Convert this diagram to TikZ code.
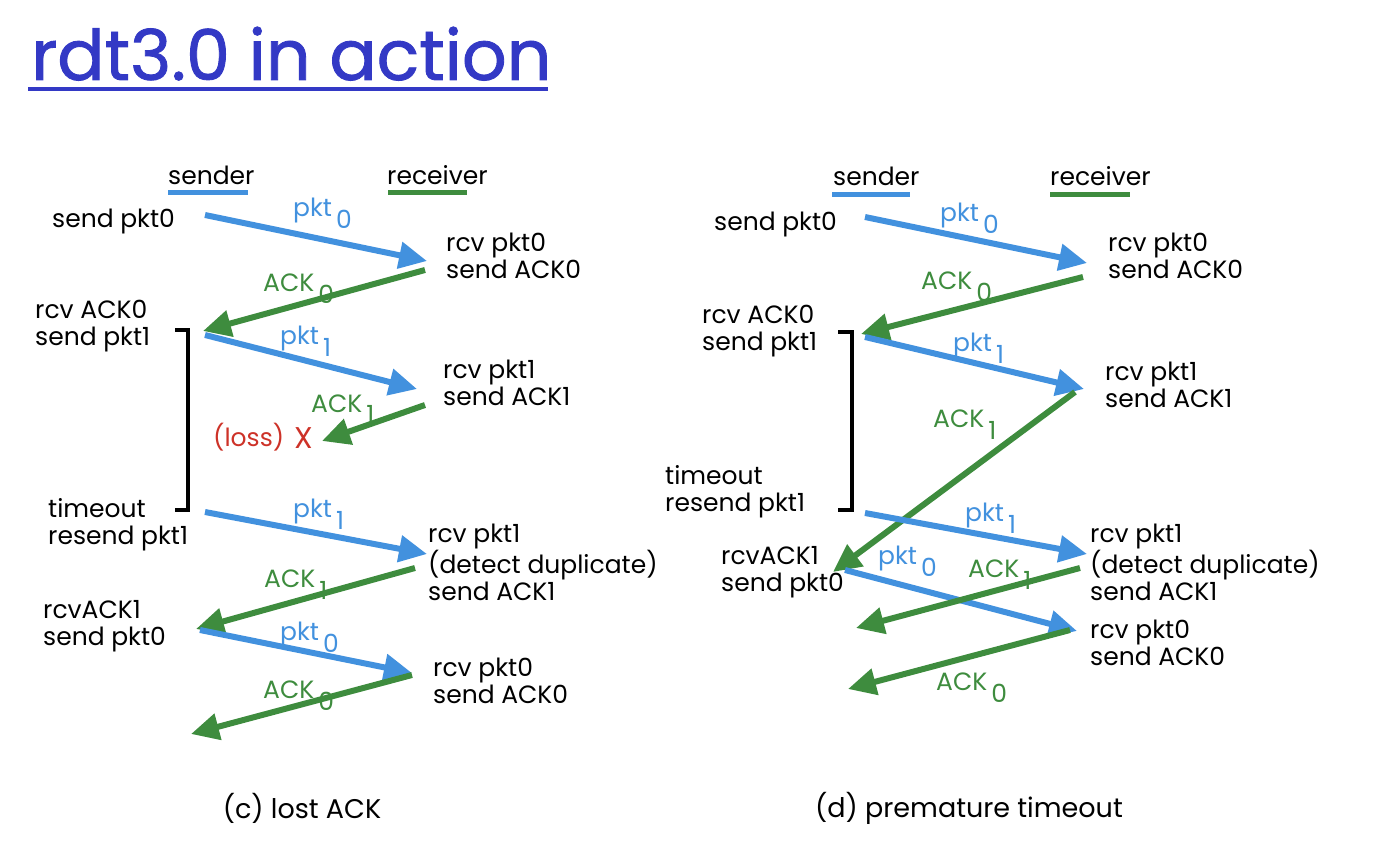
\documentclass[tikz,border=0pt]{standalone}
\usepackage{fontspec}
\setmainfont{Poppins}
\newfontfamily\titlefont[FakeBold=1.2]{Poppins}
\usetikzlibrary{arrows.meta}
\definecolor{pktblue}{RGB}{66,145,222}
\definecolor{ackgreen}{RGB}{62,140,62}
\definecolor{titleblue}{RGB}{51,57,197}
\definecolor{lossred}{RGB}{205,50,40}
\newcommand\sublbl[2]{#1\hspace{4pt}\raisebox{-12pt}{#2}}
\begin{document}
\begin{tikzpicture}[x=1pt, y=-1pt,
		pktarrow/.style={draw=pktblue, line width=6pt, -{Triangle[length=28pt,width=26pt]}},
		ackarrow/.style={draw=ackgreen, line width=6pt, -{Triangle[length=28pt,width=26pt]}},
		evt/.style={anchor=west, align=left, inner sep=0pt, font=\fontsize{25}{27}\selectfont},
		pktlbl/.style={anchor=base west, inner sep=0pt, text=pktblue, font=\fontsize{25}{27}\selectfont},
		acklbl/.style={pktlbl, text=ackgreen},
		caption/.style={anchor=center, inner sep=0pt, font=\fontsize{27}{30}\selectfont},
		bracket/.style={draw=black, line width=3.5pt},
		uline/.style={line width=5pt} ]
	\useasboundingbox (0,0) rectangle (1376,866);
	% title
	\node[anchor=base west, inner sep=0pt, text=titleblue, font=\titlefont\fontsize{70}{74}\selectfont] (title) at (31,80) {rdt3.0 in action};
	\draw[titleblue, line width=4pt] (28,89) -- (548,89);

	% (c) lost ACK
	\node[evt] (csnd) at (168,175) {sender};
	\node[evt] (crcv) at (387,175) {receiver};
	\draw[uline, pktblue] (168,193) -- (248,193);
	\draw[uline, ackgreen] (388,193) -- (467,193);
	\node[evt] (ce0) at (52,222) {send pkt0};
	\node[evt] (ce1) at (446,256) {rcv pkt0\\send ACK0};
	\node[evt] (ce2) at (35,326) {rcv ACK0\\send pkt1};
	\node[evt] (ce3) at (443,383) {rcv pkt1\\send ACK1};
	\node[evt, text=lossred] (closs) at (213,437) {(loss)};
	\node[evt, text=lossred, font=\fontsize{30}{30}\selectfont] (cx) at (294,438) {X};
	\node[evt] (ce4) at (48,525) {timeout\\resend pkt1};
	\node[evt] (ce5) at (428,562) {rcv pkt1\\(detect duplicate)\\send ACK1};
	\node[evt] (ce6) at (43,626) {rcvACK1\\send pkt0};
	\node[evt] (ce7) at (433,681) {rcv pkt0\\send ACK0};
	\node[caption] (ccap) at (302,808) {(c) lost ACK};
	\coordinate (cs0) at (205,215); \coordinate (cr0) at (427,261);
	\coordinate (cr0a) at (425,270); \coordinate (cs1) at (203,331);
	\coordinate (cs1b) at (205,335); \coordinate (cr1) at (417,389);
	\coordinate (cr1a) at (425,405); \coordinate (clost) at (322,441);
	\coordinate (cs2) at (205,512); \coordinate (cr2) at (427,554);
	\coordinate (cr2a) at (415,568); \coordinate (cs3) at (196,629);
	\coordinate (cs3b) at (200,630); \coordinate (cr3) at (412,673);
	\coordinate (cr3a) at (412,675); \coordinate (cend) at (191,734);
	\draw[pktarrow] (cs0) -- (cr0);
	\draw[ackarrow] (cr0a) -- (cs1);
	\draw[pktarrow] (cs1b) -- (cr1);
	\draw[ackarrow] (cr1a) -- (clost);
	\draw[pktarrow] (cs2) -- (cr2);
	\draw[ackarrow] (cr2a) -- (cs3);
	\draw[pktarrow] (cs3b) -- (cr3);
	\draw[ackarrow] (cr3a) -- (cend);
	\node[pktlbl] (cl0) at (293,217) {\sublbl{pkt}{0}};
	\node[acklbl] (cl1) at (263,292) {\sublbl{ACK}{0}};
	\node[pktlbl] (cl2) at (280,345) {\sublbl{pkt}{1}};
	\node[acklbl] (cl3) at (311,412) {\sublbl{ACK}{1}};
	\node[pktlbl] (cl4) at (293,517) {\sublbl{pkt}{1}};
	\node[acklbl] (cl5) at (264,587) {\sublbl{ACK}{1}};
	\node[pktlbl] (cl6) at (280,640) {\sublbl{pkt}{0}};
	\node[acklbl] (cl7) at (263,698) {\sublbl{ACK}{0}};
	\draw[bracket] (175,330) -- (188,330) -- (188,510) -- (175,510);

	% (d) premature timeout
	\node[evt] (dsnd) at (833,176) {sender};
	\node[evt] (drcv) at (1050,176) {receiver};
	\draw[uline, pktblue] (832,195) -- (910,195);
	\draw[uline, ackgreen] (1050,195) -- (1130,195);
	\node[evt] (de0) at (714,225) {send pkt0};
	\node[evt] (de1) at (1108,256) {rcv pkt0\\send ACK0};
	\node[evt] (de2) at (702,331) {rcv ACK0\\send pkt1};
	\node[evt] (de3) at (1105,385) {rcv pkt1\\send ACK1};
	\node[evt] (de4) at (665,492) {timeout\\resend pkt1};
	\node[evt] (de5) at (1090,562) {rcv pkt1\\(detect duplicate)\\send ACK1};
	\node[evt] (de6) at (721,572) {rcvACK1\\send pkt0};
	\node[evt] (de7) at (1090,643) {rcv pkt0\\send ACK0};
	\node[caption] (dcap) at (969,808) {(d) premature timeout};
	\coordinate (ds0) at (865,217); \coordinate (dr0) at (1087,263);
	\coordinate (dr0a) at (1083,277); \coordinate (ds1) at (861,334);
	\coordinate (ds1b) at (865,337); \coordinate (dr1) at (1084,389);
	\coordinate (dr1a) at (1075,392); \coordinate (ds3) at (833,572);
	\coordinate (ds2) at (865,513); \coordinate (dr2) at (1087,554);
	\coordinate (ds3b) at (845,570); \coordinate (dr3) at (1077,631);
	\coordinate (dr2a) at (1080,568); \coordinate (dx1) at (856,628);
	\coordinate (dr3a) at (1070,630); \coordinate (dx2) at (848,689);
	\draw[pktarrow] (ds0) -- (dr0);
	\draw[ackarrow] (dr0a) -- (ds1);
	\draw[pktarrow] (ds1b) -- (dr1);
	\draw[ackarrow] (dr1a) -- (ds3);
	\draw[pktarrow] (ds2) -- (dr2);
	\draw[pktarrow] (ds3b) -- (dr3);
	\draw[ackarrow] (dr2a) -- (dx1);
	\draw[ackarrow] (dr3a) -- (dx2);
	\node[pktlbl] (dl0) at (940,222) {\sublbl{pkt}{0}};
	\node[acklbl] (dl1) at (921,290) {\sublbl{ACK}{0}};
	\node[pktlbl] (dl2) at (953,352) {\sublbl{pkt}{1}};
	\node[acklbl] (dl3) at (933,428) {\sublbl{ACK}{1}};
	\node[pktlbl] (dl4) at (965,521) {\sublbl{pkt}{1}};
	\node[pktlbl] (dl5) at (878,564) {\sublbl{pkt}{0}};
	\node[acklbl] (dl6) at (968,577) {\sublbl{ACK}{1}};
	\node[acklbl] (dl7) at (936,690) {\sublbl{ACK}{0}};
	\draw[bracket] (838,332) -- (852,332) -- (852,510) -- (838,510);
\end{tikzpicture}
\end{document}
